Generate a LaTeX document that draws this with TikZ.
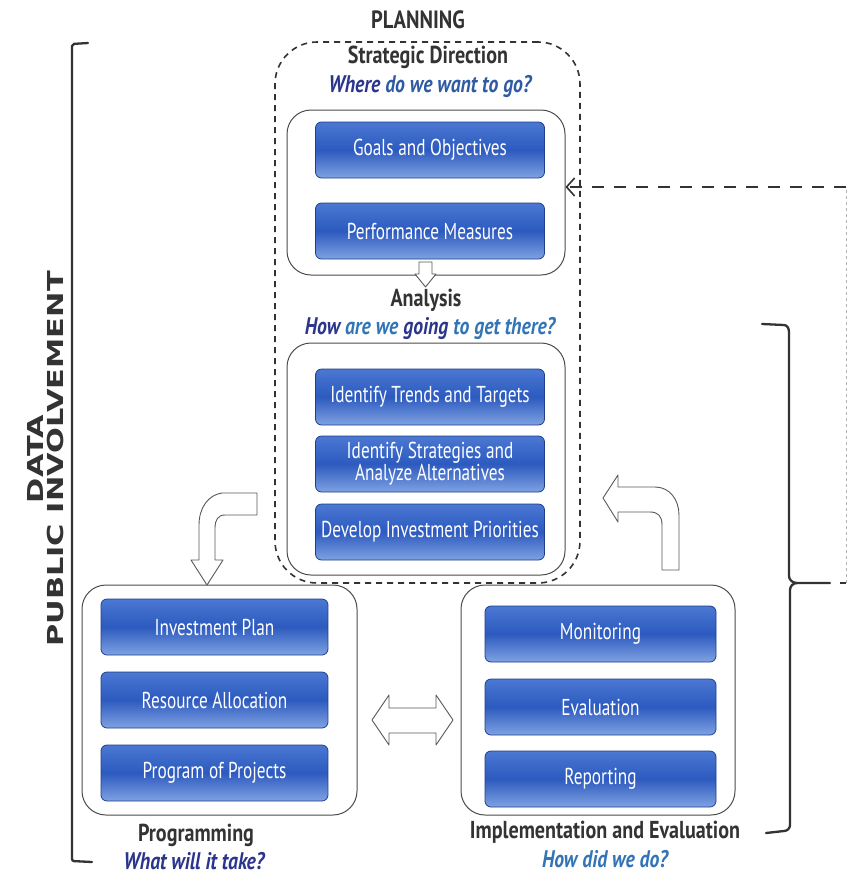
\documentclass[tikz,border=0pt]{standalone}
\usepackage{fontspec}
\setmainfont{PT Sans}
\newfontfamily\nf[FakeStretch=0.82]{PT Sans}
\newfontfamily\btnfont[FakeStretch=0.75]{PT Sans}
\newfontfamily\vf[FakeStretch=1.38]{DejaVu Sans Bold}
\usetikzlibrary{arrows.meta}
\definecolor{navy}{HTML}{2B358C}
\definecolor{midblue}{HTML}{3274B6}
\definecolor{headgray}{HTML}{333333}
\definecolor{btntop}{HTML}{4A78D2}
\definecolor{btnmid}{HTML}{2D5ABF}
\definecolor{btnbot}{HTML}{7FA2E2}
\definecolor{btnedge}{HTML}{1F3F8A}
\tikzset{
  btn/.style={draw=btnedge, line width=0.8pt, rounded corners=6pt,
    top color=btntop, bottom color=btnbot, middle color=btnmid,
    minimum width=229pt, minimum height=56pt, inner sep=0pt,
    text=white, align=center, font=\btnfont\fontsize{23}{22}\selectfont},
  panel/.style={draw=black!70, line width=1pt, rounded corners=24pt, fill=white,
    inner sep=0pt},
  head/.style={font=\nf\bfseries\fontsize{24.5}{25}\selectfont, text=headgray, inner sep=0pt},
  quest/.style={font=\nf\bfseries\itshape\fontsize{24}{25}\selectfont, inner sep=0pt},
  hollow/.style={draw=black!65, line width=0.9pt, fill=white, line join=round},
  brk/.style={draw=black!80, line width=2.3pt, line cap=round},
}
\begin{document}
\begin{tikzpicture}[x=1pt,y=-1pt]
\useasboundingbox (0,0) rectangle (848,876);
% planning dashed region
\node[draw=black!80, line width=1.6pt, dash pattern=on 6pt off 5pt, rounded corners=42pt,
  minimum width=305pt, minimum height=541pt, inner sep=0pt] (plan) at (427.5,312.5) {};
\node[head, font=\nf\bfseries\fontsize{25}{26}\selectfont] (planning) at (418,20) {PLANNING};
\node[head] (strat) at (428,57) {Strategic Direction};
\node[quest] (where) at (430,86) {\textcolor{navy}{Where} \textcolor{midblue!60!navy}{do we want to go?}};
% panels
\node[panel, minimum width=278pt, minimum height=165pt] (ptop) at (426,192.5) {};
\node[panel, minimum width=278pt, minimum height=232pt] (pmid) at (426,459) {};
\node[panel, minimum width=275pt, minimum height=230pt] (pbl) at (219.5,700) {};
\node[panel, minimum width=274pt, minimum height=230pt] (pbr) at (598,700) {};
% buttons
\node[btn] (goals) at (430,150) {Goals and Objectives};
\node[btn] (perf) at (430,231) {Performance Measures};
\node[btn] (trends) at (430,397) {Identify Trends and Targets};
\node[btn] (strategies) at (430,464) {Identify Strategies and\\[0pt]Analyze Alternatives};
\node[btn] (develop) at (430,532) {Develop Investment Priorities};
\node[btn, minimum width=227pt] (invest) at (214.5,627) {Investment Plan};
\node[btn, minimum width=227pt] (resource) at (214.5,700) {Resource Allocation};
\node[btn, minimum width=227pt] (program) at (214.5,773) {Program of Projects};
\node[btn, minimum width=231pt] (monitor) at (600.5,634) {Monitoring};
\node[btn, minimum width=231pt] (evalb) at (600.5,707) {Evaluation};
\node[btn, minimum width=231pt] (report) at (600.5,779) {Reporting};
% labels
\node[head] (analysis) at (426,300) {Analysis};
\node[quest] (how) at (430,328) {\textcolor{navy}{How} \textcolor{midblue}{are we} \textcolor{navy}{going} \textcolor{midblue}{to get there?}};
\node[head] (programming) at (196,835) {Programming};
\node[quest, text=navy] (what) at (194,861) {What will it take?};
\node[head] (impl) at (605,832) {Implementation and Evaluation};
\node[quest, text=midblue] (howdid) at (605,859) {How did we do?};
% vertical side text
\node[rotate=90, font=\vf\fontsize{22}{20}\selectfont, text=headgray, align=center, inner sep=0pt] (side) at (46,459) {DATA\\PUBLIC INVOLVEMENT};
% left bracket
\draw[brk, rounded corners=2pt] (88,43) -- (72,44) -- (72,861) -- (92,862);
% right brace
\draw[brk] (762,324) -- (784,325) to[out=0,in=90] (789,332) -- (789,576) to[out=-90,in=180] (797,583) -- (830,583);
\draw[brk] (797,583) to[out=180,in=90] (790,590) -- (790,825) to[out=-90,in=0] (784,831) -- (766,833);
% dashed feedback
\coordinate (fbstart) at (840,583);
\coordinate (fbcorner) at (846,583);
\coordinate (fbtop) at (846,187);
\draw[black!30, dashed, line width=1pt] (fbcorner) -- (fbtop);
\draw[black!80, line width=2.6pt] (fbstart) -- (fbcorner);
\draw[black!80, line width=2.6pt, dash pattern=on 12pt off 10pt, -{Straight Barb[length=8pt,width=18pt,line width=1.6pt]}] (fbtop) -- (ptop.east |- fbtop);
% small down arrow
\draw[hollow] (419,262) -- (432,262) -- (432,274) -- (436,274) -- (425.5,287) -- (415,274) -- (419,274) -- cycle;
% curved arrow left
\draw[hollow] (257,493) -- (222,493) .. controls (208,495) and (199,508) .. (199,525) -- (199,560) -- (191,560) -- (207,585) -- (223,560) -- (215,560) -- (215,528) .. controls (215,520) and (218,515) .. (225,515) -- (257,515) -- cycle;
% curved arrow right
\draw[hollow] (662,570) -- (662,525) .. controls (662,516) and (658,512) .. (650,512) -- (618,512) -- (618,522) -- (603,498) -- (618,475) -- (618,487) -- (655,487) .. controls (670,487) and (679,500) .. (679,515) -- (679,570) -- cycle;
% double arrow
\draw[hollow] (372,720) -- (389,695) -- (389,708) -- (436,708) -- (436,695) -- (453,720) -- (436,745) -- (436,733) -- (389,733) -- (389,745) -- cycle;
\end{tikzpicture}
\end{document}
